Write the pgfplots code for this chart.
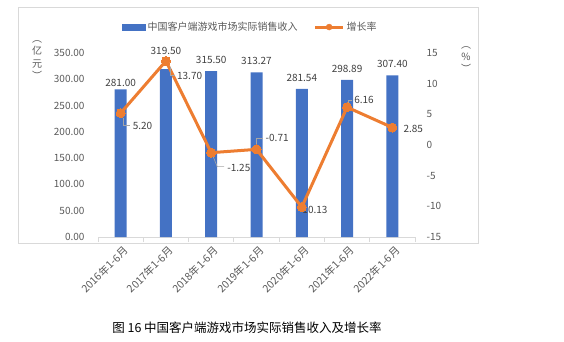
\documentclass[border=0pt]{standalone}
\usepackage{fontspec}
\setmainfont{Noto Sans CJK SC}
\usepackage{pgfplots}
\usepackage{pgfplotstable}
\pgfplotsset{compat=1.18}
\definecolor{barblue}{HTML}{4472C4}
\definecolor{lineorange}{HTML}{ED7D31}
\definecolor{txt}{HTML}{595959}
\definecolor{lbl}{HTML}{404040}
\definecolor{framegray}{HTML}{D9D9D9}
\definecolor{leader}{HTML}{A6A6A6}
\newcommand{\tf}{\fontsize{10}{12}\selectfont}
\pgfplotstableread{
x revenue lshift
0 281.00 -1
1 319.50 11
2 315.50 4
3 313.27 4
4 281.54 4
5 298.89 4
6 307.40 4
}\revtable
\begin{document}
\begin{tikzpicture}[x=1pt,y=1pt]
\useasboundingbox (0,0) rectangle (564,341);
\draw[framegray, line width=1pt] (18,98) rectangle (478,333);
\begin{axis}[
  at={(98pt,104pt)}, anchor=south west,
  width=317pt, height=184pt, scale only axis,
  xmin=-0.5, xmax=6.5, ymin=0, ymax=350,
  axis x line*=bottom, axis y line*=left,
  x axis line style={framegray, line width=0.8pt, -},
  y axis line style={draw=none},
  xtick={0,...,6},
  xticklabels={2016年1-6月,2017年1-6月,2018年1-6月,2019年1-6月,2020年1-6月,2021年1-6月,2022年1-6月},
  major tick length=0pt,
  extra x ticks={-0.5,0.5,...,6.5},
  extra x tick labels={},
  extra x tick style={major tick length=5pt, tick align=outside, tick style={framegray, line width=0.8pt}},
  xticklabel style={rotate=45, anchor=east, font=\fontsize{10.5}{12}\selectfont, text=txt, yshift=-12pt, xshift=-1pt},
  ytick={0,50,...,350},
  yticklabel style={font=\tf, text=txt, xshift=-10pt},
  yticklabel={\pgfmathprintnumber[fixed,fixed zerofill,precision=2,assume math mode=true]{\tick}},
  ylabel={︵\\亿\\元\\︶},
  ylabel style={rotate=-90, at={(axis description cs:-0.192,0.962)}, anchor=center, align=center, font=\fontsize{10}{12.5}\selectfont, text=txt},
  legend style={at={(axis description cs:0.48,1.141)}, anchor=center, legend columns=2, draw=none, fill=none, font=\tf, text=txt,
    /tikz/every even column/.append style={column sep=14pt}},
]
\addplot[fill=barblue, draw=none, ybar, bar width=12pt,
  legend image code/.code={\fill[barblue] (0pt,-3.5pt) rectangle (24pt,3.5pt);},
  visualization depends on={\thisrow{lshift} \as \lshift},
  nodes near coords,
  nodes near coords style={font=\tf, text=lbl, anchor=south, yshift=\lshift pt,
    /pgf/number format/.cd, fixed, fixed zerofill, precision=2, assume math mode=true}]
  table[x=x, y=revenue] {\revtable};
\addlegendentry{中国客户端游戏市场实际销售收入}
\addlegendimage{legend image code/.code={\draw[lineorange, line width=3pt] (0pt,0pt) -- (28pt,0pt); \fill[lineorange] (14pt,0pt) circle (3pt);}}
\addlegendentry{增长率}
\end{axis}
\begin{axis}[
  at={(98pt,104pt)}, anchor=south west,
  width=317pt, height=184pt, scale only axis,
  xmin=-0.5, xmax=6.5, ymin=-15, ymax=15,
  axis x line=none, axis y line*=right,
  y axis line style={draw=none},
  major tick length=0pt,
  ytick={-15,-10,...,15},
  yticklabel style={font=\tf, text=txt, xshift=8pt},
  yticklabel={\pgfmathprintnumber[assume math mode=true]{\tick}},
  ylabel={︵\\\%\\︶},
  ylabel style={rotate=-90, at={(axis description cs:1.161,0.965)}, anchor=center, align=center, font=\fontsize{10}{12}\selectfont, text=txt},
  clip=false,
]
\addplot[lineorange, line width=3pt, mark=*, mark size=4.5pt, mark options={fill=lineorange, draw=lineorange, line width=0pt}]
  coordinates {(0,5.20) (1,13.70) (2,-1.25) (3,-0.71) (4,-10.13) (5,6.16) (6,2.85)};
\begin{scope}[every node/.style={font=\tf, text=lbl, anchor=west, inner sep=0pt}]
\node at ([xshift=12pt,yshift=-13pt]axis cs:0,5.20) {5.20};
\draw[leader, line width=0.6pt] ([xshift=3pt,yshift=-5pt]axis cs:0,5.20) -- ([xshift=3pt,yshift=-12pt]axis cs:0,5.20) -- ([xshift=9pt,yshift=-12pt]axis cs:0,5.20);
\node at ([xshift=11pt,yshift=-15pt]axis cs:1,13.70) {13.70};
\draw[leader, line width=0.6pt] ([xshift=4pt,yshift=-6pt]axis cs:1,13.70) -- ([xshift=4pt,yshift=-14pt]axis cs:1,13.70) -- ([xshift=9pt,yshift=-14pt]axis cs:1,13.70);
\node at ([xshift=16pt,yshift=-15pt]axis cs:2,-1.25) {-1.25};
\draw[leader, line width=0.6pt] ([xshift=2pt,yshift=-4pt]axis cs:2,-1.25) -- ([xshift=6pt,yshift=-14pt]axis cs:2,-1.25) -- ([xshift=13pt,yshift=-14pt]axis cs:2,-1.25);
\node at ([xshift=9pt,yshift=11pt]axis cs:3,-0.71) {-0.71};
\draw[leader, line width=0.6pt] ([xshift=0pt,yshift=5pt]axis cs:3,-0.71) -- ([xshift=0pt,yshift=11pt]axis cs:3,-0.71) -- ([xshift=6pt,yshift=11pt]axis cs:3,-0.71);
\node at ([xshift=-3pt,yshift=-3pt]axis cs:4,-10.13) {-10.13};
\node at ([xshift=7pt,yshift=7pt]axis cs:5,6.16) {6.16};
\draw[leader, line width=0.6pt] ([xshift=1pt,yshift=4pt]axis cs:5,6.16) -- ([xshift=1pt,yshift=7pt]axis cs:5,6.16) -- ([xshift=5pt,yshift=7pt]axis cs:5,6.16);
\node at ([xshift=11pt,yshift=-1pt]axis cs:6,2.85) {2.85};
\end{scope}
\end{axis}
\node[font=\fontsize{12.5}{14}\selectfont, text=black] at (247,13) {图\ 16\ 中国客户端游戏市场实际销售收入及增长率};
\end{tikzpicture}
\end{document}
